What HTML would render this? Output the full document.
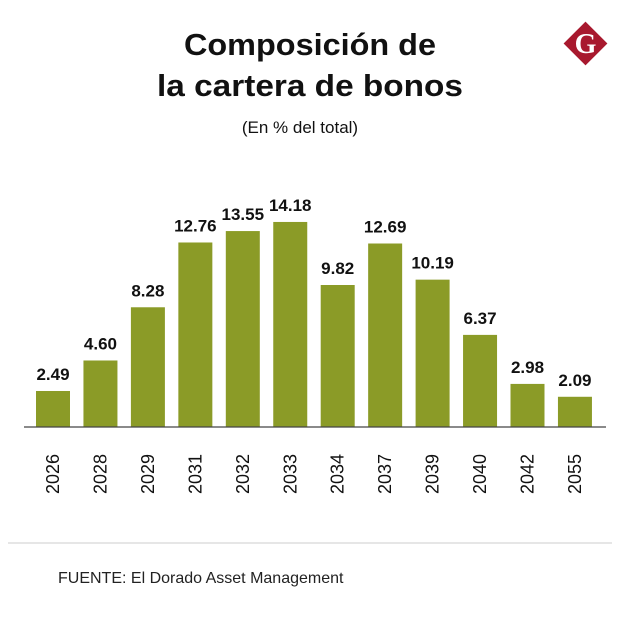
<!DOCTYPE html>
<html><head><meta charset="utf-8"><style>
body{margin:0;background:#fff;width:620px;height:615px;overflow:hidden;font-family:"Liberation Sans",sans-serif}
</style></head><body>
<svg width="620" height="615">
<text x="310" y="55" text-anchor="middle" font-size="31" font-weight="bold" fill="#111" textLength="252" lengthAdjust="spacingAndGlyphs">Composición de</text>
<text x="310" y="96" text-anchor="middle" font-size="31" font-weight="bold" fill="#111" textLength="306" lengthAdjust="spacingAndGlyphs">la cartera de bonos</text>
<text x="300" y="133" text-anchor="middle" font-size="17" fill="#111">(En % del total)</text>
<g>
<rect x="570" y="28" width="31" height="31" fill="#a8192e" transform="rotate(45 585.5 43.5)"/>
<text x="585.5" y="53" text-anchor="middle" font-size="28" font-weight="bold" font-family="Liberation Serif,serif" fill="#fff">G</text>
</g>
<g id="bars"></g>
<line x1="24" y1="427" x2="606" y2="427" stroke="#444" stroke-width="1.2"/>
<line x1="8" y1="543" x2="612" y2="543" stroke="#ccc" stroke-width="1"/>
<text x="58" y="583" font-size="16" fill="#222">FUENTE: El Dorado Asset Management</text>
</svg>
<script>
const categories=["2026","2028","2029","2031","2032","2033","2034","2037","2039","2040","2042","2055"];
const values=[2.49,4.60,8.28,12.76,13.55,14.18,9.82,12.69,10.19,6.37,2.98,2.09];
const labels=["2.49","4.60","8.28","12.76","13.55","14.18","9.82","12.69","10.19","6.37","2.98","2.09"];
const ns="http://www.w3.org/2000/svg";
const g=document.getElementById('bars');
const base=427,scale=14.46,x0=36,step=47.45,bw=34;
const xs=i=>x0+i*step, ys=v=>base-v*scale;
categories.forEach((c,i)=>{
 const r=document.createElementNS(ns,'rect');
 r.setAttribute('x',xs(i));r.setAttribute('y',ys(values[i]));
 r.setAttribute('width',bw);r.setAttribute('height',base-ys(values[i]));
 r.setAttribute('fill','#8b9b27');
 
 
 g.appendChild(r);
 const t=document.createElementNS(ns,'text');
 t.setAttribute('x',xs(i)+bw/2);t.setAttribute('y',ys(values[i])-11);
 t.setAttribute('text-anchor','middle');t.setAttribute('font-size','17');t.setAttribute('font-weight','bold');t.setAttribute('fill','#111');
 t.textContent=labels[i];
 
 
 g.appendChild(t);
 const l=document.createElementNS(ns,'text');
 const cx=xs(i)+bw/2+6,cy=494;
 l.setAttribute('x',cx);l.setAttribute('y',cy);
 l.setAttribute('transform','rotate(-90 '+cx+' '+cy+')');
 l.setAttribute('font-size','18');l.setAttribute('fill','#111');
 l.textContent=c;
 
 
 g.appendChild(l);
});
</script>
</body></html>
